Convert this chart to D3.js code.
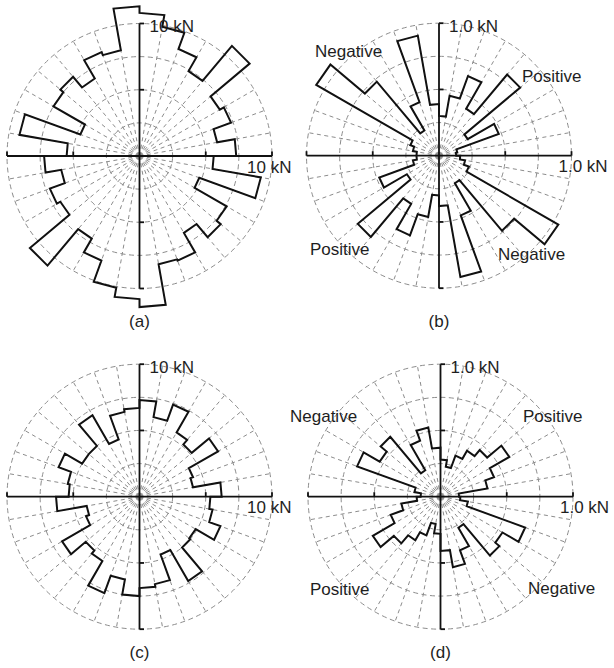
<!DOCTYPE html>
<html>
<head>
<meta charset="utf-8">
<script src="https://cdn.jsdelivr.net/npm/d3@7"></script>
<style>
  body { margin: 0; background: #fff; }
  svg { display: block; }
  text { font-family: "Liberation Sans", Arial, sans-serif; fill: #1e1e1e; }
</style>
</head>
<body>
<svg id="chart" width="614" height="668"></svg>
<script>
// Direction bins (degrees, counter-clockwise from east), 10 degrees wide
const binStart = [0, 10, 20, 30, 40, 50, 60, 70, 80, 90, 100, 110, 120, 130, 140, 150, 160, 170,
                  180, 190, 200, 210, 220, 230, 240, 250, 260, 270, 280, 290, 300, 310, 320, 330, 340, 350];
const binWidth = 10;

// (a) resultant force per direction bin, kN
const forceA = [7.3, 5.95, 7.35, 7.0, 10.85, 7.4, 8.6, 9.9, 10.8, 11.3, 8.1, 8.35, 6.75, 7.8, 7.5, 4.75, 9.2, 5.5,
                7.2, 6.0, 7.2, 6.9, 10.8, 7.2, 8.4, 10.1, 10.8, 11.4, 8.3, 8.4, 6.7, 8.0, 7.6, 4.8, 9.3, 5.6];
// (b) force component per direction bin, kN
const forceB = [0.13, 0.14, 0.48, 0.25, 0.80, 0.41, 0.64, 0.46, 0.30, 0.39, 0.92, 0.43, 0.22, 0.73, 1.07, 0.23, 0.20, 0.17,
                0.17, 0.20, 0.48, 0.28, 0.80, 0.42, 0.64, 0.47, 0.30, 0.38, 0.93, 0.48, 0.24, 0.74, 1.04, 0.24, 0.20, 0.16];
// (c) resultant force per direction bin, kN
const forceC = [6.2, 4.1, 4.3, 6.85, 5.15, 5.6, 7.4, 6.1, 7.3, 6.7, 6.5, 4.6, 7.1, 5.0, 5.0, 6.5, 5.5, 5.35,
                6.3, 4.05, 4.3, 6.75, 5.3, 5.6, 7.75, 6.35, 7.5, 6.9, 6.7, 4.65, 7.35, 5.0, 4.9, 6.5, 5.6, 5.35];
// (d) force component per direction bin, kN
const forceD = [0.14, 0.36, 0.43, 0.60, 0.46, 0.40, 0.33, 0.23, 0.28, 0.37, 0.53, 0.45, 0.23, 0.59, 0.53, 0.67, 0.20, 0.15,
                0.18, 0.30, 0.40, 0.59, 0.46, 0.38, 0.31, 0.21, 0.28, 0.41, 0.54, 0.43, 0.27, 0.58, 0.54, 0.68, 0.21, 0.15];

const panelNames = ["(a)", "(b)", "(c)", "(d)"];
const axisMax = [10, 1.0, 10, 1.0];
const axisLabels = ["10 kN", "1.0 kN", "10 kN", "1.0 kN"];
const quadrantNames = ["Negative", "Positive", "Positive", "Negative"];

const R = 132.5;
const svg = d3.select("#chart");

const layout = [
  { cx: 139.5, cy: 156.0, rightDx: -25, nameY: 327, quad: null },
  { cx: 439.0, cy: 155.7, rightDx: -13, nameY: 327,
    quad: [[315, 57], [522, 82], [310, 255], [498, 260]] },
  { cx: 139.5, cy: 496.7, rightDx: -25, nameY: 658, quad: null },
  { cx: 440.5, cy: 496.7, rightDx: -13, nameY: 658,
    quad: [[290, 422], [523, 422], [310, 595], [528, 594]] }
];
const series = [forceA, forceB, forceC, forceD];
const rad = d => d * Math.PI / 180;

series.forEach((values, i) => {
  const L = layout[i];
  const max = axisMax[i];
  const r = d3.scaleLinear().domain([0, max]).range([0, R]);
  const g = svg.append("g").attr("transform", `translate(${L.cx},${L.cy})`);

  // dashed grid rings
  const rings = [0.25, 0.5, 0.75, 1].map(f => f * max);
  g.selectAll("circle.ring").data(rings).join("circle")
    .attr("class", "ring")
    .attr("r", d => r(d))
    .attr("fill", "none")
    .attr("stroke", "#8c8c8c")
    .attr("stroke-width", 1)
    .attr("stroke-dasharray", "5,3.5");

  // dashed spokes every 10 degrees (axes drawn separately)
  const spokes = binStart.filter(a => a % 90 !== 0);
  g.selectAll("line.spoke").data(spokes).join("line")
    .attr("class", "spoke")
    .attr("x1", 0).attr("y1", 0)
    .attr("x2", a => r(max) * Math.cos(rad(a)))
    .attr("y2", a => -r(max) * Math.sin(rad(a)))
    .attr("stroke", "#8c8c8c")
    .attr("stroke-width", 1)
    .attr("stroke-dasharray", "4,3.5");

  // solid axes with ticks at half and full scale
  const ax = g.append("g").attr("stroke", "#111").attr("stroke-width", 1.8).attr("fill", "none");
  ax.append("line").attr("x1", -r(max)).attr("x2", r(max)).attr("y1", 0).attr("y2", 0);
  ax.append("line").attr("x1", 0).attr("x2", 0).attr("y1", -r(max)).attr("y2", r(max));
  const tickVals = [-max, -max / 2, max / 2, max];
  const tl = 4.5;
  ax.selectAll("line.xt").data(tickVals).join("line")
    .attr("class", "xt")
    .attr("x1", d => r(Math.abs(d)) * Math.sign(d)).attr("x2", d => r(Math.abs(d)) * Math.sign(d))
    .attr("y1", 0).attr("y2", -tl);
  ax.selectAll("line.yt").data(tickVals).join("line")
    .attr("class", "yt")
    .attr("y1", d => r(Math.abs(d)) * Math.sign(d)).attr("y2", d => r(Math.abs(d)) * Math.sign(d))
    .attr("x1", 0).attr("x2", tl);

  // rose outline: each bin is an arc-step at its radius
  const pts = [];
  binStart.forEach((a, k) => {
    pts.push({ theta: rad(a), v: values[k] });
    pts.push({ theta: rad(a + binWidth), v: values[k] });
  });
  const outline = d3.lineRadial()
    .angle(d => Math.PI / 2 - d.theta)
    .radius(d => r(d.v))
    .curve(d3.curveLinearClosed);
  g.append("path")
    .attr("d", outline(pts))
    .attr("fill", "none")
    .attr("stroke", "#111")
    .attr("stroke-width", 2)
    .attr("stroke-linejoin", "miter");

  // scale labels
  g.append("text").attr("x", 10).attr("y", -r(max) + 8.5)
    .attr("font-size", 17).text(axisLabels[i]);
  g.append("text").attr("x", r(max) + L.rightDx).attr("y", 16.5)
    .attr("font-size", 17).text(axisLabels[i]);

  // panel name
  svg.append("text").attr("x", L.cx).attr("y", L.nameY)
    .attr("text-anchor", "middle").attr("font-size", 17).text(panelNames[i]);

  // quadrant sign labels
  if (L.quad) {
    L.quad.forEach((p, k) => {
      svg.append("text").attr("x", p[0]).attr("y", p[1])
        .attr("font-size", 17).text(quadrantNames[k]);
    });
  }
});
</script>
</body>
</html>
